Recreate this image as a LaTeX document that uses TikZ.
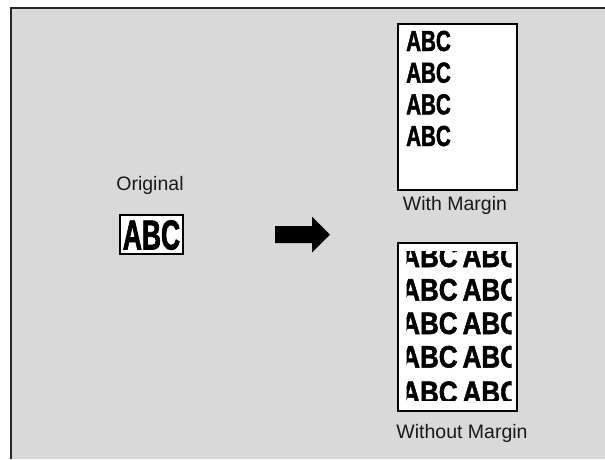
\documentclass[tikz,border=0pt]{standalone}
\usepackage{fontspec}
\setmainfont{Liberation Sans}
\newfontfamily\abcwm{Liberation Sans Bold}[FakeStretch=0.71, FakeBold=1.6]
\newfontfamily\abcor{Liberation Sans Bold}[FakeStretch=0.63, FakeBold=1.6]
\newfontfamily\abcnm{Liberation Sans Bold}[FakeStretch=0.84, FakeBold=1.6]
\tikzset{
  frameline/.style={draw=black!85, line width=1.1pt},
  paper/.style={draw=black, line width=1.9pt, fill=white},
  caption/.style={inner sep=0pt, font=\fontsize{19.5}{22}\selectfont, text=black!90},
  bigabc/.style={inner sep=0pt, anchor=base west, font=\abcwm\fontsize{29}{29}\selectfont},
  origabc/.style={inner sep=0pt, anchor=base, font=\abcor\fontsize{42}{42}\selectfont},
  fillabc/.style={inner sep=0pt, anchor=base west, font=\abcnm\fontsize{31}{31}\selectfont},
}
\begin{document}
\begin{tikzpicture}[x=1pt,y=-1pt]
\useasboundingbox (0,0) rectangle (605,459);
% background frame
\fill[white] (0,0) rectangle (605,459);
\fill[gray!30] (11,8) rectangle (605,459);
\draw[frameline] (605,8) -- (11,8) -- (11,459);
% original
\node[caption] (origlabel) at (150,185) {Original};
\draw[paper] (120,215) rectangle (183,254);
\node[origabc] (origabc) at (151.5,249.5) {ABC};
% arrow
\fill[black] (275,226) -- (312,226) -- (312,216.5) -- (330,234.5) -- (312,252.5) -- (312,243) -- (275,243) -- cycle;
% with margin
\draw[paper] (398,24) rectangle (517,190);
\node[bigabc] (wm1) at (406,51) {ABC};
\node[bigabc] (wm2) at (406,82.7) {ABC};
\node[bigabc] (wm3) at (406,114.4) {ABC};
\node[bigabc] (wm4) at (406,146) {ABC};
\node[caption] (wmlabel) at (455,205) {With Margin};
% without margin
\draw[paper] (398,243) rectangle (517,411);
\begin{scope}
\clip (406.5,251) rectangle (511.5,400);
\foreach \i/\b in {1/267,2/300.5,3/334,4/367.5,5/403}{
  \node[fillabc] (nm\i) at (401,\b) {ABC\hspace{5pt}ABC};
}
\end{scope}
\node[caption] (nmlabel) at (462,433) {Without Margin};
\end{tikzpicture}
\end{document}
